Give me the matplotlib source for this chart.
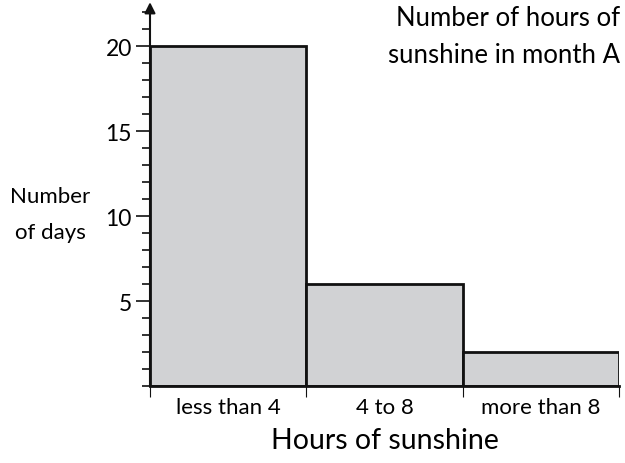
import matplotlib.pyplot as plt
from matplotlib.ticker import MultipleLocator, FixedLocator

categories = ['less than 4', '4 to 8', 'more than 8']
days = [20, 6, 2]
y_ticks = [5, 10, 15, 20]

plt.rcParams['font.family'] = ['Lato', 'DejaVu Sans']

fig = plt.figure(figsize=(6.25, 4.64), dpi=100)
ax = fig.add_axes([0.24, 0.166, 0.751, 0.8125])

# histogram-style bars, one unit wide, touching each other
x = [i + 0.5 for i in range(len(categories))]
ax.bar(x, days, width=1.0, color='#d1d2d4', edgecolor='#111111', linewidth=2.0)

ax.set_xlim(0, 3)
ax.set_ylim(0, 22.2)

for side in ['top', 'right', 'left']:
    ax.spines[side].set_visible(False)
ax.spines['bottom'].set_linewidth(2.0)
ax.spines['bottom'].set_color('#111111')

# vertical axis with an arrow head on top
ax.annotate('', xy=(0, 22.6), xytext=(0, 0), xycoords='data',
            arrowprops=dict(arrowstyle='-|>', color='#111111', lw=1.5,
                            mutation_scale=16, shrinkA=0, shrinkB=0),
            annotation_clip=False)

ax.yaxis.set_major_locator(FixedLocator(y_ticks))
ax.yaxis.set_minor_locator(MultipleLocator(1))
ax.tick_params(axis='y', which='major', length=10, width=1.2, labelsize=16.5,
               pad=3, color='#111111')
ax.tick_params(axis='y', which='minor', length=6, width=1.2, color='#111111')

# boundary ticks below the axis, labels centred under each bar
ax.xaxis.set_major_locator(FixedLocator([0, 1, 2, 3]))
ax.xaxis.set_minor_locator(FixedLocator(x))
ax.set_xticklabels([])
ax.set_xticklabels(categories, minor=True)
ax.tick_params(axis='x', which='major', length=8, width=0.8, color='#111111')
ax.tick_params(axis='x', which='minor', length=0, labelsize=16, pad=8)

ax.set_xlabel('Hours of sunshine', fontsize=20.5, labelpad=7)
fig.text(0.08, 0.537, 'Number\nof days', fontsize=16, ha='center', va='center',
         linespacing=2.0)

fig.text(0.992, 0.988, 'Number of hours of\nsunshine in month A', fontsize=18.5,
         ha='right', va='top', multialignment='right', linespacing=1.6)

fig.savefig('out.png', dpi=100)
